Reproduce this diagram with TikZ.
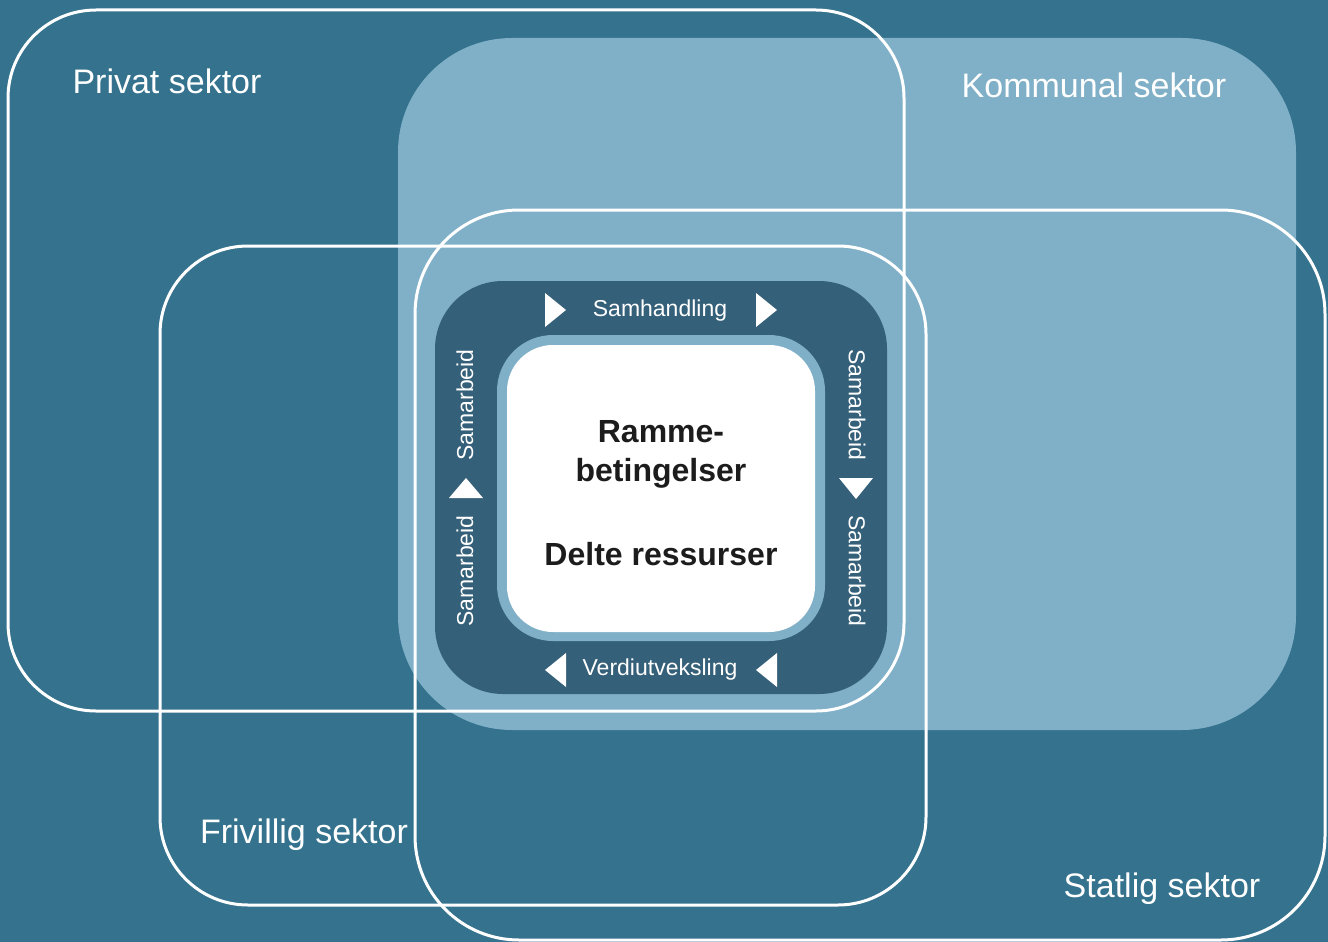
\documentclass[tikz,border=0pt]{standalone}
\usepackage{fontspec}
\setmainfont{Liberation Sans}
\definecolor{sektorbg}{HTML}{34728D}
\definecolor{kommunalfarge}{HTML}{80B0C7}
\definecolor{kjerne}{HTML}{356079}
\definecolor{tekst}{HTML}{1C1C1C}
\begin{document}
\begin{tikzpicture}[x=1pt, y=-1pt, line join=round, line cap=round,
		sektor/.style={draw=white, line width=3pt},
		sektornavn/.style={text=white, anchor=base, inner sep=0pt, font=\fontsize{34}{40}\selectfont},
		flyt/.style={text=white, inner sep=0pt, font=\fontsize{23}{27}\selectfont},
		ressurs/.style={text=tekst, anchor=base, inner sep=0pt, font=\fontsize{32}{38}\selectfont\bfseries}]
			\fill[sektorbg] (0,0) rectangle (1328,942);
			\useasboundingbox (0,0) rectangle (1328,942);
			% kommunal sektor (filled), the other three as outlines
			\fill[kommunalfarge, rounded corners=114pt] (398,38) rectangle (1296,730);
			\draw[sektor, rounded corners=88pt] (8,10) rectangle (904,711);
			\draw[sektor, rounded corners=88pt] (160,246) rectangle (926,905);
			\draw[sektor, rounded corners=104pt] (415,210) rectangle (1325,940);
			% core box
			\fill[kjerne, rounded corners=68pt] (435,281) rectangle (887,694);
			\fill[kommunalfarge, rounded corners=56pt] (497,335) rectangle (825,641);
			\fill[white, rounded corners=46pt] (507,345) rectangle (815,632);
			% flow marks
			\fill[white] (545,293) -- (566,310) -- (545,327) -- cycle;
			\fill[white] (756,293) -- (777,310) -- (756,327) -- cycle;
			\fill[white] (566,653) -- (545,670) -- (566,687) -- cycle;
			\fill[white] (777,653) -- (756,670) -- (777,687) -- cycle;
			\fill[white] (449,498) -- (466,478) -- (483,498) -- cycle;
			\fill[white] (839,478) -- (873,478) -- (856,499) -- cycle;
			% labels
			\node[sektornavn] (privat) at (167,93) {Privat sektor};
			\node[sektornavn] (kommunal) at (1094,97) {Kommunal sektor};
			\node[sektornavn] (frivillig) at (304,843) {Frivillig sektor};
			\node[sektornavn] (statlig) at (1162,897) {Statlig sektor};
			\node[flyt, anchor=base] (samhandling) at (660,316) {Samhandling};
			\node[flyt, anchor=base] (verdiutveksling) at (660,675) {Verdiutveksling};
			\node[flyt, rotate=90] (samarbeidVO) at (465,405) {Samarbeid};
			\node[flyt, rotate=90] (samarbeidVN) at (465,571) {Samarbeid};
			\node[flyt, rotate=-90] (samarbeidHO) at (857,405) {Samarbeid};
			\node[flyt, rotate=-90] (samarbeidHN) at (857,571) {Samarbeid};
			\node[ressurs] (ramme) at (661,442) {Ramme-};
			\node[ressurs] (betingelser) at (661,481) {betingelser};
			\node[ressurs] (delte) at (661,565) {Delte ressurser};
		\end{tikzpicture}
\end{document}
